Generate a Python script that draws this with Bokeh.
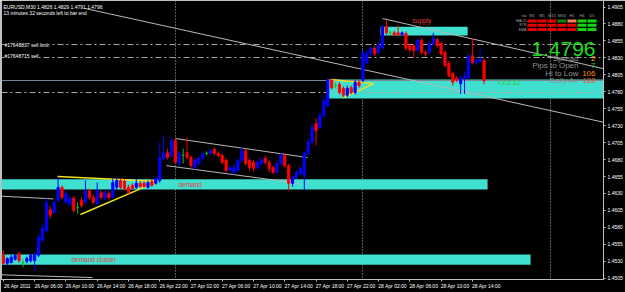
from bokeh.plotting import figure
from bokeh.models import (Range1d, FixedTicker, NumeralTickFormatter, Label,
                          BoxAnnotation, ColumnDataSource, LinearAxis)
from bokeh.embed import file_html
from bokeh.resources import INLINE

FONT = "Liberation Sans"

# ---------------- data ----------------
symbol = "EURUSD,M30"
bar_timer = "13 minutes 32 seconds left to bar end"

opens = [
    1.4539, 1.4527, 1.4528, 1.4533, 1.4541, 1.4528, 1.4530, 1.4531, 1.4531, 1.4539,
    1.4561, 1.4575, 1.4606, 1.4602, 1.4620, 1.4639, 1.4617, 1.4614, 1.4623, 1.4609,
    1.4620, 1.4617, 1.4634, 1.4624, 1.4615, 1.4631, 1.4623, 1.4630, 1.4624, 1.4639,
    1.4649, 1.4648, 1.4639, 1.4642, 1.4639, 1.4645, 1.4645, 1.4639, 1.4648, 1.4645,
    1.4649, 1.4682, 1.4690, 1.4686, 1.4708, 1.4674, 1.4686, 1.4690, 1.4683, 1.4668,
    1.4674, 1.4682, 1.4689, 1.4689, 1.4695, 1.4689, 1.4686, 1.4679, 1.4664, 1.4661,
    1.4664, 1.4679, 1.4693, 1.4679, 1.4676, 1.4668, 1.4674, 1.4682, 1.4676, 1.4668,
    1.4661, 1.4674, 1.4686, 1.4671, 1.4645, 1.4654, 1.4659, 1.4657, 1.4689, 1.4705,
    1.4733, 1.4727, 1.4745, 1.4760, 1.4797, 1.4789, 1.4791, 1.4785, 1.4775, 1.4786,
    1.4779, 1.4794, 1.4797, 1.4823, 1.4836, 1.4844, 1.4838, 1.4845, 1.4876, 1.4867,
    1.4867, 1.4867, 1.4864, 1.4866, 1.4848, 1.4848, 1.4841, 1.4856, 1.4838, 1.4838,
    1.4851, 1.4857, 1.4851, 1.4838, 1.4822, 1.4807, 1.4800, 1.4792, 1.4800, 1.4801,
    1.4833, 1.4823, 1.4825, 1.4826]
highs = [
    1.4546, 1.4536, 1.4539, 1.4541, 1.4544, 1.4533, 1.4537, 1.4541, 1.4543, 1.4570,
    1.4584, 1.4623, 1.4611, 1.4621, 1.4654, 1.4642, 1.4634, 1.4627, 1.4626, 1.4617,
    1.4624, 1.4649, 1.4637, 1.4628, 1.4646, 1.4634, 1.4636, 1.4633, 1.4652, 1.4654,
    1.4652, 1.4651, 1.4643, 1.4645, 1.4652, 1.4648, 1.4648, 1.4649, 1.4651, 1.4655,
    1.4705, 1.4716, 1.4696, 1.4713, 1.4711, 1.4693, 1.4696, 1.4713, 1.4686, 1.4682,
    1.4685, 1.4693, 1.4692, 1.4696, 1.4698, 1.4692, 1.4689, 1.4682, 1.4671, 1.4674,
    1.4682, 1.4699, 1.4696, 1.4682, 1.4679, 1.4679, 1.4683, 1.4686, 1.4679, 1.4671,
    1.4677, 1.4690, 1.4689, 1.4674, 1.4657, 1.4664, 1.4670, 1.4693, 1.4711, 1.4735,
    1.4741, 1.4752, 1.4775, 1.4800, 1.4800, 1.4794, 1.4794, 1.4788, 1.4789, 1.4789,
    1.4797, 1.4797, 1.4841, 1.4841, 1.4847, 1.4848, 1.4853, 1.4879, 1.4885, 1.4870,
    1.4870, 1.4878, 1.4869, 1.4869, 1.4851, 1.4850, 1.4859, 1.4859, 1.4841, 1.4854,
    1.4867, 1.4860, 1.4854, 1.4841, 1.4825, 1.4810, 1.4803, 1.4803, 1.4811, 1.4836,
    1.4859, 1.4829, 1.4844, 1.4829]
lows = [
    1.4525, 1.4524, 1.4527, 1.4531, 1.4528, 1.4521, 1.4527, 1.4528, 1.4516, 1.4536,
    1.4558, 1.4572, 1.4593, 1.4599, 1.4617, 1.4621, 1.4614, 1.4611, 1.4602, 1.4600,
    1.4609, 1.4614, 1.4621, 1.4614, 1.4612, 1.4621, 1.4620, 1.4621, 1.4623, 1.4636,
    1.4636, 1.4634, 1.4630, 1.4636, 1.4637, 1.4639, 1.4639, 1.4637, 1.4640, 1.4643,
    1.4646, 1.4679, 1.4680, 1.4683, 1.4674, 1.4671, 1.4674, 1.4680, 1.4668, 1.4665,
    1.4671, 1.4679, 1.4686, 1.4686, 1.4686, 1.4683, 1.4673, 1.4661, 1.4661, 1.4658,
    1.4662, 1.4676, 1.4671, 1.4664, 1.4662, 1.4665, 1.4671, 1.4673, 1.4661, 1.4658,
    1.4658, 1.4671, 1.4668, 1.4634, 1.4640, 1.4651, 1.4657, 1.4634, 1.4686, 1.4702,
    1.4701, 1.4724, 1.4742, 1.4757, 1.4783, 1.4785, 1.4776, 1.4772, 1.4772, 1.4776,
    1.4776, 1.4786, 1.4794, 1.4820, 1.4833, 1.4833, 1.4835, 1.4842, 1.4864, 1.4864,
    1.4863, 1.4862, 1.4863, 1.4841, 1.4838, 1.4831, 1.4838, 1.4835, 1.4832, 1.4835,
    1.4848, 1.4845, 1.4833, 1.4816, 1.4801, 1.4789, 1.4794, 1.4777, 1.4777, 1.4798,
    1.4820, 1.4820, 1.4822, 1.4791]
closes = [
    1.4527, 1.4534, 1.4536, 1.4539, 1.4531, 1.4528, 1.4534, 1.4539, 1.4540, 1.4565,
    1.4578, 1.4617, 1.4598, 1.4617, 1.4639, 1.4624, 1.4630, 1.4623, 1.4605, 1.4609,
    1.4612, 1.4634, 1.4624, 1.4617, 1.4634, 1.4624, 1.4631, 1.4624, 1.4646, 1.4649,
    1.4639, 1.4637, 1.4631, 1.4637, 1.4645, 1.4640, 1.4640, 1.4646, 1.4642, 1.4652,
    1.4683, 1.4690, 1.4683, 1.4708, 1.4676, 1.4689, 1.4686, 1.4683, 1.4671, 1.4679,
    1.4682, 1.4689, 1.4689, 1.4693, 1.4689, 1.4686, 1.4676, 1.4664, 1.4668, 1.4668,
    1.4679, 1.4693, 1.4674, 1.4668, 1.4667, 1.4676, 1.4680, 1.4676, 1.4667, 1.4661,
    1.4674, 1.4686, 1.4671, 1.4645, 1.4654, 1.4661, 1.4667, 1.4689, 1.4705, 1.4727,
    1.4723, 1.4745, 1.4767, 1.4797, 1.4786, 1.4789, 1.4779, 1.4775, 1.4785, 1.4779,
    1.4794, 1.4789, 1.4838, 1.4836, 1.4844, 1.4836, 1.4848, 1.4876, 1.4867, 1.4867,
    1.4864, 1.4864, 1.4867, 1.4844, 1.4842, 1.4841, 1.4856, 1.4838, 1.4836, 1.4851,
    1.4859, 1.4848, 1.4836, 1.4819, 1.4804, 1.4794, 1.4797, 1.4800, 1.4803, 1.4833,
    1.4823, 1.4826, 1.4828, 1.4796]

time_tick_index = [0, 8, 16, 24, 32, 40, 48, 56, 64, 72, 80, 88, 96, 104, 112, 120]
time_tick_labels = ["26 Apr 2011", "26 Apr 06:00", "26 Apr 10:00", "26 Apr 14:00",
                    "26 Apr 18:00", "26 Apr 22:00", "27 Apr 02:00", "27 Apr 06:00",
                    "27 Apr 10:00", "27 Apr 14:00", "27 Apr 18:00", "27 Apr 22:00",
                    "28 Apr 02:00", "28 Apr 06:00", "28 Apr 10:00", "28 Apr 14:00"]
price_ticks = [1.4505, 1.4530, 1.4555, 1.4580, 1.4605, 1.4630, 1.4655, 1.4680, 1.4705,
               1.4730, 1.4755, 1.4780, 1.4805, 1.4830, 1.4855, 1.4880, 1.4905]
day_separators = [44, 92, 140]

# zones (bar index / price)
zone_left = [96.5, 82.9, -1.0, -1.0]
zone_right = [118.8, 160.0, 123.9, 134.9]
zone_top = [1.4876, 1.4798, 1.4651, 1.4540]
zone_bottom = [1.4863, 1.4770, 1.4636, 1.4525]
zone_text = ["supply", "", "demand", "demand cluster"]
zone_text_x = [104.7, 0, 44.8, 17.4]
zone_text_y = [1.4885, 0, 1.4643, 1.4532]

# gray trend lines
tl_x0 = [20.75, 97.0, 44.0, 41.7, -0.6, -0.7]
tl_y0 = [1.4903, 1.4888, 1.4711, 1.4671, 1.4626, 1.4510]
tl_x1 = [153.6, 153.6, 77.8, 75.5, 12.8, 22.8]
tl_y1 = [1.4735, 1.4814, 1.4683, 1.4645, 1.4622, 1.4506]
# yellow triangle lines
yl_x0 = [13.84, 19.7, 83.7, 87.0]
yl_y0 = [1.4655, 1.4599, 1.4798, 1.4771]
yl_x1 = [39.2, 39.2, 94.7, 94.7]
yl_y1 = [1.4648, 1.4647, 1.4792, 1.4792]

# horizontal levels
order_levels = [1.4850, 1.4830, 1.4779]
order_names = ["#17648837 sell limit", "#17648715 sell"]
bid_price = closes[-1]
timer_text = "<13:12"

# indicator panel
tf_names = ["M1", "M5", "M15", "M30", "H1", "H4", "D1"]
signal_rows = ["MACD", "STR", "EMA"]
R, G, DG, S = "#e80000", "#10d810", "#0a8a0a", "#ff8060"
signal_colors = [[R, R, R, DG, S, G, G],
                 [R, R, R, R, R, G, G],
                 [R, R, R, R, R, G, G]]
stat_names = ["Spread", "Pips to Open", "Hi to Low", "Daily Av"]
stat_values = ["2", "7", "106", "133"]
stat_colors = ["#ffa500", "#22dd22", "#ff8c00", "#ff4a10"]

# ---------------- figure ----------------
FRAME_LEFT, FRAME_BOTTOM = 1, 279
LABEL_SHIFT = 3.6   # time labels start at their tick (MT4 style), in bars


def sx(px):
    return px - FRAME_LEFT


def sy(py):
    return FRAME_BOTTOM - py


p = figure(width=625, height=292, x_range=Range1d(-0.486, 153.56),
           y_range=Range1d(1.45031, 1.49146), y_axis_location="right",
           output_backend="svg", toolbar_location=None,
           min_border_left=1, min_border_right=22, min_border_top=0,
           min_border_bottom=13, background_fill_color="black",
           border_fill_color="black", outline_line_color="#c0c0c0")
p.xgrid.visible = False
p.ygrid.visible = False

# axes: the first x axis carries tick marks, a second one the left-aligned labels
p.xaxis.ticker = FixedTicker(ticks=time_tick_index)
p.xaxis.major_label_overrides = {i: "" for i in time_tick_index}
p.yaxis.ticker = FixedTicker(ticks=price_ticks)
p.yaxis.formatter = NumeralTickFormatter(format="0.0000")
for ax in (p.xaxis[0], p.yaxis[0]):
    ax.axis_line_color = "#c0c0c0"
    ax.major_tick_line_color = "#c0c0c0"
    ax.minor_tick_line_color = None
    ax.major_tick_out = 2
    ax.major_tick_in = 0
    ax.major_label_text_color = "white"
    ax.major_label_text_font = FONT
    ax.major_label_text_font_size = "5px"
p.xaxis[0].major_label_text_font_size = "1px"
p.xaxis[0].major_label_standoff = 0
p.yaxis.major_label_standoff = 2

shifted = [t + LABEL_SHIFT for t in time_tick_index]
lab_axis = LinearAxis(ticker=FixedTicker(ticks=shifted),
                      major_label_overrides={s: t for s, t in zip(shifted, time_tick_labels)},
                      axis_line_color=None, major_tick_line_color=None,
                      minor_tick_line_color=None, major_tick_out=0, major_tick_in=0,
                      major_label_standoff=1, major_label_text_color="white",
                      major_label_text_font=FONT, major_label_text_font_size="5px")
p.add_layout(lab_axis, "below")

# day separators
p.vspan(x=day_separators, line_color="#b0b0b0", line_dash="1 2", line_width=1)

# zones
p.quad(left=zone_left, right=zone_right, top=zone_top, bottom=zone_bottom,
       fill_color="#40e0d0", line_color=None)

# horizontal levels
p.hspan(y=[bid_price], line_color="#778899", line_width=1)
p.hspan(y=order_levels, line_color="#a8a8a8", line_dash="6 3 2 3", line_width=1)

# trend lines
p.segment(x0=tl_x0, y0=tl_y0, x1=tl_x1, y1=tl_y1, line_color="#b8b8b8", line_width=1)
p.segment(x0=yl_x0, y0=yl_y0, x1=yl_x1, y1=yl_y1, line_color="#f0e020", line_width=1.5)

# candles
xs = list(range(len(opens)))
colors = []
for o, c in zip(opens, closes):
    colors.append("#0000ff" if c > o else ("#ff0000" if c < o else "#00cc00"))
src = ColumnDataSource(dict(x=xs, open=opens, high=highs, low=lows, close=closes,
                            top=[max(o, c) for o, c in zip(opens, closes)],
                            bottom=[min(o, c) for o, c in zip(opens, closes)],
                            color=colors))
p.segment(x0="x", y0="low", x1="x", y1="high", line_color="color", line_width=1, source=src)
p.vbar(x="x", width=0.55, top="top", bottom="bottom", fill_color="color",
       line_color="color", line_width=1, source=src)

# zone texts
for t, x, y in zip(zone_text, zone_text_x, zone_text_y):
    if t:
        p.add_layout(Label(x=x, y=y, text=t, text_color="#e03c3c", text_font=FONT,
                           text_font_size="6.5px", text_baseline="middle", text_align="left"))

p.add_layout(Label(x=126.4, y=1.4794, text=timer_text, text_color="#22cc22", text_font=FONT,
                   text_font_size="7.5px", text_baseline="middle", text_align="left"))

# header
header = f"{symbol}  {opens[-1]:.4f} {highs[-1]:.4f} {lows[-1]:.4f} {closes[-1]:.4f}"
p.add_layout(Label(x=sx(3), y=sy(3), x_units="screen", y_units="screen", text=header,
                   text_color="white", text_font=FONT, text_font_size="5px",
                   text_baseline="top"))
p.add_layout(Label(x=sx(3), y=sy(9.5), x_units="screen", y_units="screen", text=bar_timer,
                   text_color="white", text_font=FONT, text_font_size="5px",
                   text_baseline="top"))

# order labels
for name, py in zip(order_names, [44, 55]):
    p.add_layout(Label(x=sx(4), y=sy(py), x_units="screen", y_units="screen", text=name,
                       text_color="white", text_font=FONT, text_font_size="5px",
                       text_baseline="middle", background_fill_color="black"))

# indicator matrix
for c, tf in enumerate(tf_names):
    p.add_layout(Label(x=sx(531.5 + 10 * c), y=sy(15), x_units="screen", y_units="screen",
                       text=tf, text_color="#a0a0a0", text_font=FONT, text_font_size="4px",
                       text_baseline="middle", text_align="center"))
p.add_layout(Label(x=sx(526), y=sy(15), x_units="screen", y_units="screen",
                   text="clo", text_color="#a0a0a0", text_font=FONT, text_font_size="4px",
                   text_baseline="middle", text_align="right"))
row_tops = [19, 23.3, 27.6]
for r, name in enumerate(signal_rows):
    p.add_layout(Label(x=sx(526), y=sy(row_tops[r] + 1.5), x_units="screen", y_units="screen",
                       text=name, text_color="#a0a0a0", text_font=FONT, text_font_size="3.6px",
                       text_baseline="middle", text_align="right"))
    for c in range(len(tf_names)):
        left = 527 + 10 * c
        p.add_layout(BoxAnnotation(left=sx(left), right=sx(left + 9),
                                   top=sy(row_tops[r]), bottom=sy(row_tops[r] + 3),
                                   left_units="screen", right_units="screen",
                                   top_units="screen", bottom_units="screen",
                                   fill_color=signal_colors[r][c], fill_alpha=1,
                                   line_color=None))

# big price
p.add_layout(Label(x=sx(595), y=sy(48), x_units="screen", y_units="screen",
                   text=f"{bid_price:.4f}", text_color="#1edc1e", text_font=FONT,
                   text_font_size="21px", text_baseline="alphabetic", text_align="right"))

stat_base = [57.5, 64.5, 72.5, 80]
for name, val, col, by in zip(stat_names, stat_values, stat_colors, stat_base):
    p.add_layout(Label(x=sx(578), y=sy(by), x_units="screen", y_units="screen", text=name,
                       text_color="#909090", text_font=FONT, text_font_size="8px",
                       text_baseline="alphabetic", text_align="right"))
    p.add_layout(Label(x=sx(595), y=sy(by), x_units="screen", y_units="screen", text=val,
                       text_color=col, text_font=FONT, text_font_size="8px",
                       text_baseline="alphabetic", text_align="right"))

# price marker on axis
p.add_layout(Label(x=sx(604), y=bid_price, x_units="screen", text=f"{bid_price:.4f}",
                   text_color="black", text_font=FONT, text_font_size="5px",
                   text_baseline="middle", background_fill_color="white"))

open("out.html", "w").write(file_html(p, INLINE))
